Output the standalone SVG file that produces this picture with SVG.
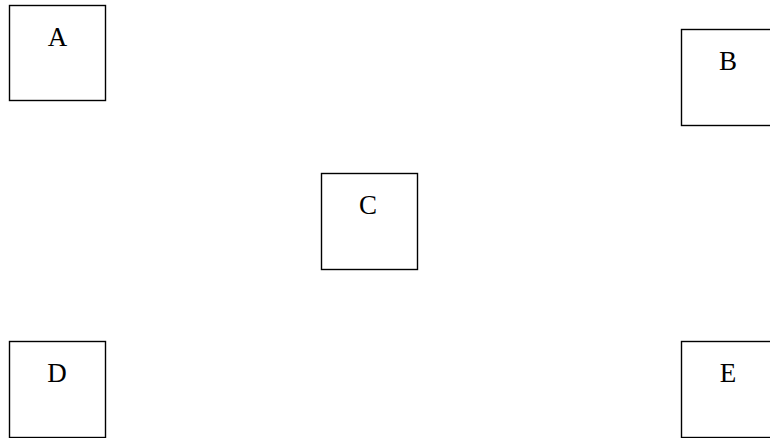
<svg xmlns="http://www.w3.org/2000/svg" width="770" height="438" viewBox="0 0 770 438">
<style>
.box{fill:#fff;stroke:#000;stroke-width:1.4}
.lbl{font-family:"Liberation Serif","Times New Roman",serif;font-size:27px;fill:#000;text-anchor:middle}
</style>
<rect width="770" height="438" fill="#fff"/>
<g id="A"><rect class="box" x="9.5" y="5.5" width="96" height="95"/><text class="lbl" x="57.5" y="46">A</text></g>
<g id="B"><rect class="box" x="681.5" y="29.5" width="96" height="96"/><text class="lbl" x="728" y="70">B</text></g>
<g id="C"><rect class="box" x="321.5" y="173.5" width="96" height="96"/><text class="lbl" x="368" y="214">C</text></g>
<g id="D"><rect class="box" x="9.5" y="341.5" width="96" height="96"/><text class="lbl" x="57" y="382">D</text></g>
<g id="E"><rect class="box" x="681.5" y="341.5" width="96" height="96"/><text class="lbl" x="728" y="382">E</text></g>
<g id="connectors"></g>
</svg>
